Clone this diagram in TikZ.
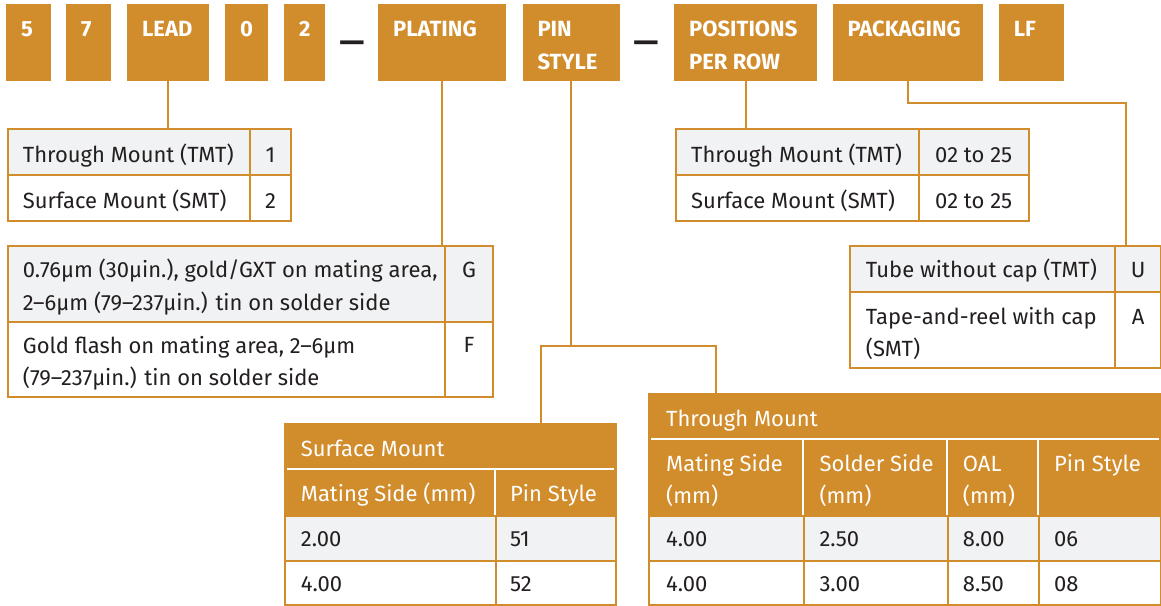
\documentclass[tikz,border=0pt]{standalone}
\usepackage{fontspec}
\setmainfont{Fira Sans}
\definecolor{org}{HTML}{D18C2B}
\definecolor{lgray}{HTML}{F1F2F3}
\definecolor{ink}{HTML}{231F20}
\begin{document}
\begin{tikzpicture}[x=1pt,y=-1pt,
  hbox/.style={fill=org, draw=none, inner sep=0pt, anchor=north west, minimum height=77pt},
  htext/.style={text=white, font=\fontsize{22}{32.3}\selectfont\bfseries, anchor=base west, inner sep=0pt, align=left},
  dashtext/.style={text=ink, font=\fontsize{31}{31}\selectfont\bfseries, anchor=base, inner sep=0pt},
  cell/.style={draw=org, line width=2pt, anchor=north west, inner sep=0pt},
  ctext/.style={text=ink, font=\fontsize{22}{32.5}\selectfont, anchor=base west, inner sep=0pt, align=left},
  cmid/.style={text=ink, font=\fontsize{22}{32.5}\selectfont, anchor=base, inner sep=0pt},
  wtext/.style={text=white, font=\fontsize{22}{31.6}\selectfont, anchor=base west, inner sep=0pt, align=left},
  conn/.style={draw=org, line width=2pt},
  wline/.style={draw=white, line width=2pt},
]
\useasboundingbox (0,0) rectangle (1161,605);
% ---------- top code boxes ----------
\node[hbox, minimum width=45pt]  (b5)   at (6,4) {};
\node[hbox, minimum width=45pt]  (b7)   at (66,4) {};
\node[hbox, minimum width=82pt]  (lead) at (127,4) {};
\node[hbox, minimum width=43pt]  (b0)   at (225,4) {};
\node[hbox, minimum width=41pt]  (b2)   at (284,4) {};
\node[hbox, minimum width=128pt] (plat) at (378,4) {};
\node[hbox, minimum width=97pt]  (pin)  at (522.3,4) {};
\node[hbox, minimum width=142.7pt] (pos) at (674,4) {};
\node[hbox, minimum width=150.4pt] (pack) at (832.3,4) {};
\node[hbox, minimum width=65pt]  (lf)   at (998.7,4) {};
\foreach \n/\t in {b5/5, b7/7, lead/LEAD, b0/0, b2/2, plat/PLATING, pack/PACKAGING, lf/LF}
  \node[htext] at ([shift={(15,32.7)}]\n.north west) {\t};
% two-line labels: the base anchor is the baseline of the last line
\node[htext] at ([shift={(15,65)}]pin.north west) {PIN\\STYLE};
\node[htext] at ([shift={(15,65)}]pos.north west) {POSITIONS\\PER ROW};
\node[dashtext] (d1) at (352,52.5) {—};
\node[dashtext] (d2) at (646,52.5) {—};
% ---------- LEAD table ----------
\node[cell, fill=lgray, minimum width=242.3pt, minimum height=45.7pt] (l1a) at (6.7,128.3) {};
\node[cell, fill=lgray, minimum width=41pt, minimum height=45.7pt] (l1b) at (249,128.3) {};
\node[cell, fill=white, minimum width=242.3pt, minimum height=46pt] (l2a) at (6.7,174) {};
\node[cell, fill=white, minimum width=41pt, minimum height=46pt] (l2b) at (249,174) {};
\node[ctext] at ([shift={(16,34)}]l1a.north west) {Through Mount (TMT)};
\node[cmid] at ([shift={(0,34)}]l1b.north) {1};
\node[ctext] at ([shift={(16,34.3)}]l2a.north west) {Surface Mount (SMT)};
\node[cmid] at ([shift={(0,34.3)}]l2b.north) {2};
% ---------- POSITIONS table ----------
\node[cell, fill=lgray, minimum width=242.7pt, minimum height=45.7pt] (q1a) at (675,128.3) {};
\node[cell, fill=lgray, minimum width=110pt, minimum height=45.7pt] (q1b) at (917.7,128.3) {};
\node[cell, fill=white, minimum width=242.7pt, minimum height=46pt] (q2a) at (675,174) {};
\node[cell, fill=white, minimum width=110pt, minimum height=46pt] (q2b) at (917.7,174) {};
\node[ctext] at ([shift={(16,34)}]q1a.north west) {Through Mount (TMT)};
\node[cmid] at ([shift={(0,34)}]q1b.north) {02 to 25};
\node[ctext] at ([shift={(16,34.3)}]q2a.north west) {Surface Mount (SMT)};
\node[cmid] at ([shift={(0,34.3)}]q2b.north) {02 to 25};
% ---------- PLATING table ----------
\node[cell, fill=lgray, minimum width=437.6pt, minimum height=75.7pt] (p1a) at (6.7,245) {};
\node[cell, fill=lgray, minimum width=47.4pt, minimum height=75.7pt] (p1b) at (444.3,245) {};
\node[cell, fill=white, minimum width=437.6pt, minimum height=75pt] (p2a) at (6.7,320.7) {};
\node[cell, fill=white, minimum width=47.4pt, minimum height=75pt] (p2b) at (444.3,320.7) {};
\node[ctext] at ([shift={(16,65)}]p1a.north west) {0.76µm (30µin.), gold/GXT on mating area,\\2–6µm (79–237µin.) tin on solder side};
\node[cmid] at ([shift={(0,32.7)}]p1b.north) {G};
\node[ctext] at ([shift={(16,65)}]p2a.north west) {Gold flash on mating area, 2–6µm\\(79–237µin.) tin on solder side};
\node[cmid] at ([shift={(0,32)}]p2b.north) {F};
% ---------- PACKAGING table ----------
\node[cell, fill=lgray, minimum width=265.3pt, minimum height=46pt] (k1a) at (849,245) {};
\node[cell, fill=lgray, minimum width=45.7pt, minimum height=46pt] (k1b) at (1114.3,245) {};
\node[cell, fill=white, minimum width=265.3pt, minimum height=75.7pt] (k2a) at (849,291) {};
\node[cell, fill=white, minimum width=45.7pt, minimum height=75.7pt] (k2b) at (1114.3,291) {};
\node[ctext] at ([shift={(16.7,32.7)}]k1a.north west) {Tube without cap (TMT)};
\node[cmid] at ([shift={(0,32.7)}]k1b.north) {U};
\node[ctext] at ([shift={(16.7,65.7)}]k2a.north west) {Tape-and-reel with cap\\(SMT)};
\node[cmid] at ([shift={(0,33.3)}]k2b.north) {A};
% ---------- SURFACE MOUNT table ----------
\node[cell, fill=org, minimum width=331pt, minimum height=92.3pt] (smh) at (284,422.7) {};
\draw[wline] ([shift={(3,46.6)}]smh.north west) -- ([shift={(-3,46.6)}]smh.north east);
\draw[wline] (495,469.3) -- (495,515);
\node[wtext] at ([shift={(16.7,34)}]smh.north west) {Surface Mount};
\node[wtext] at (300.7,501.7) {Mating Side (mm)};
\node[wtext] at (510,501.7) {Pin Style};
\node[cell, fill=lgray, minimum width=211pt, minimum height=45pt] (sm1a) at (284,515) {};
\node[cell, fill=lgray, minimum width=120pt, minimum height=45pt] (sm1b) at (495,515) {};
\node[cell, fill=white, minimum width=211pt, minimum height=44pt] (sm2a) at (284,560) {};
\node[cell, fill=white, minimum width=120pt, minimum height=44pt] (sm2b) at (495,560) {};
\node[ctext] at ([shift={(16.7,31.7)}]sm1a.north west) {2.00};
\node[ctext] at ([shift={(15,31.7)}]sm1b.north west) {51};
\node[ctext] at ([shift={(16.7,31.7)}]sm2a.north west) {4.00};
\node[ctext] at ([shift={(15,31.7)}]sm2b.north west) {52};
% ---------- THROUGH MOUNT table ----------
\node[cell, fill=org, minimum width=511.7pt, minimum height=122.3pt] (tmh) at (648.3,392.7) {};
\draw[wline] ([shift={(3,46.6)}]tmh.north west) -- ([shift={(-3,46.6)}]tmh.north east);
\foreach \x in {803.3,946.7,1038.3} \draw[wline] (\x,439.3) -- (\x,515);
\node[wtext] at ([shift={(17.7,34)}]tmh.north west) {Through Mount};
\node[wtext] at (666,503.3) {Mating Side\\(mm)};
\node[wtext] at (819.3,503.3) {Solder Side\\(mm)};
\node[wtext] at (962.7,503.3) {OAL\\(mm)};
\node[wtext] at (1054,471.7) {Pin Style};
\node[cell, fill=lgray, minimum width=155pt, minimum height=45pt] (t1a) at (648.3,515) {};
\node[cell, fill=lgray, minimum width=143.4pt, minimum height=45pt] (t1b) at (803.3,515) {};
\node[cell, fill=lgray, minimum width=91.6pt, minimum height=45pt] (t1c) at (946.7,515) {};
\node[cell, fill=lgray, minimum width=121.7pt, minimum height=45pt] (t1d) at (1038.3,515) {};
\node[cell, fill=white, minimum width=155pt, minimum height=44pt] (t2a) at (648.3,560) {};
\node[cell, fill=white, minimum width=143.4pt, minimum height=44pt] (t2b) at (803.3,560) {};
\node[cell, fill=white, minimum width=91.6pt, minimum height=44pt] (t2c) at (946.7,560) {};
\node[cell, fill=white, minimum width=121.7pt, minimum height=44pt] (t2d) at (1038.3,560) {};
\node[ctext] at ([shift={(17.7,31.7)}]t1a.north west) {4.00};
\node[ctext] at ([shift={(16,31.7)}]t1b.north west) {2.50};
\node[ctext] at ([shift={(16,31.7)}]t1c.north west) {8.00};
\node[ctext] at ([shift={(15.7,31.7)}]t1d.north west) {06};
\node[ctext] at ([shift={(17.7,31.7)}]t2a.north west) {4.00};
\node[ctext] at ([shift={(16,31.7)}]t2b.north west) {3.00};
\node[ctext] at ([shift={(16,31.7)}]t2c.north west) {8.50};
\node[ctext] at ([shift={(15.7,31.7)}]t2d.north west) {08};
% ---------- connectors ----------
\draw[conn] (lead.south) -- (lead.south |- l1a.north);
\draw[conn] (plat.south) -- (plat.south |- p1a.north);
\draw[conn] (pos.south) -- (pos.south |- q1a.north);
\coordinate (pj) at (pin.south |- 0,346);
\coordinate (pl) at (540.7,346);
\coordinate (pr) at (716,346);
\draw[conn] (pin.south) -- (pj);
\draw[conn] (pl |- smh.north) -- (pl) -- (pr) -- (pr |- tmh.north);
\coordinate (kj) at (1125.7,103.3);
\draw[conn] (pack.south) -- (pack.south |- kj) -- (kj) -- (kj |- k1b.north);
\end{tikzpicture}
\end{document}
